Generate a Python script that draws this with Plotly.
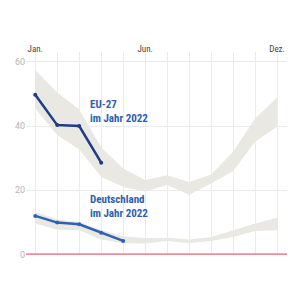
import plotly.graph_objects as go

months = ["Jan.", "Feb.", "Mär.", "Apr.", "Mai", "Jun.", "Jul.", "Aug.", "Sep.", "Okt.", "Nov.", "Dez."]
tick_text = ["Jan.", "", "", "", "", "Jun.", "", "", "", "", "", "Dez."]

eu_upper = [57.5, 50.5, 45.2, 33.3, 26.8, 23.2, 24.7, 22.6, 24.9, 32.0, 42.4, 48.9]
eu_lower = [45.5, 37.2, 32.7, 24.2, 21.0, 19.6, 21.6, 18.6, 22.1, 26.0, 35.1, 39.8]
de_upper = [13.2, 10.9, 10.1, 7.7, 5.6, 5.1, 5.2, 4.6, 5.4, 7.5, 9.6, 11.4]
de_lower = [9.6, 7.7, 7.5, 4.6, 3.5, 3.4, 4.2, 3.5, 4.2, 5.4, 7.3, 7.5]

eu_2022 = [49.8, 40.3, 40.0, 28.6]
de_2022 = [12.0, 9.9, 9.4, 6.7, 4.2]

y_ticks = [0, 20, 40, 60]

band_color = "#e9e8e3"
eu_color = "#1f3d86"
de_color = "#2f62b5"
label_color = "#2e5fae"
label_font = "Liberation Sans Narrow, Roboto Condensed, Roboto"

x_all = list(range(len(months)))

fig = go.Figure()

def add_band(upper, lower):
    fig.add_trace(go.Scatter(
        x=x_all + x_all[::-1], y=upper + lower[::-1],
        fill="toself", fillcolor=band_color, mode="lines",
        line=dict(width=0), hoverinfo="skip", showlegend=False))

add_band(eu_upper, eu_lower)
add_band(de_upper, de_lower)

fig.add_trace(go.Scatter(
    x=x_all[:len(eu_2022)], y=eu_2022, mode="lines+markers",
    line=dict(color=eu_color, width=2.5), marker=dict(size=4, color=eu_color),
    showlegend=False))
fig.add_trace(go.Scatter(
    x=x_all[:len(de_2022)], y=de_2022, mode="lines+markers",
    line=dict(color=de_color, width=2.5), marker=dict(size=4, color=de_color),
    showlegend=False))

fig.add_annotation(x=2.4, y=49.4, text="EU-27<br>im Jahr 2022", showarrow=False,
                   xanchor="left", yanchor="top", align="left",
                   font=dict(family=label_font, size=11, color=label_color, weight="bold"))
fig.add_annotation(x=2.4, y=19.7, text="Deutschland<br>im Jahr 2022", showarrow=False,
                   xanchor="left", yanchor="top", align="left",
                   font=dict(family=label_font, size=11, color=label_color, weight="bold"))

fig.add_shape(type="line", xref="paper", x0=0, x1=1, yref="y", y0=0, y1=0,
              line=dict(color="#f08d9c", width=2))

fig.update_layout(
    width=300, height=300,
    margin=dict(l=26, r=13, t=52, b=45),
    paper_bgcolor="white", plot_bgcolor="white",
    font=dict(family="Roboto", size=9, color="#444"),
    xaxis=dict(side="top", range=[-0.42, 11.45], tickvals=x_all, ticktext=tick_text,
               showgrid=True, gridcolor="#ebebeb", gridwidth=1, zeroline=False,
               showline=False, ticks="", ticklabelstandoff=-3,
               tickfont=dict(family=label_font, size=9, color="#444")),
    yaxis=dict(range=[-0.2, 63.1], tickvals=y_ticks, showgrid=True, gridcolor="#ebebeb",
               gridwidth=1, zeroline=False, showline=False, ticks="",
               tickfont=dict(family="Roboto", size=9, color="#b5b5b5")),
)

fig.write_html("out.html")
